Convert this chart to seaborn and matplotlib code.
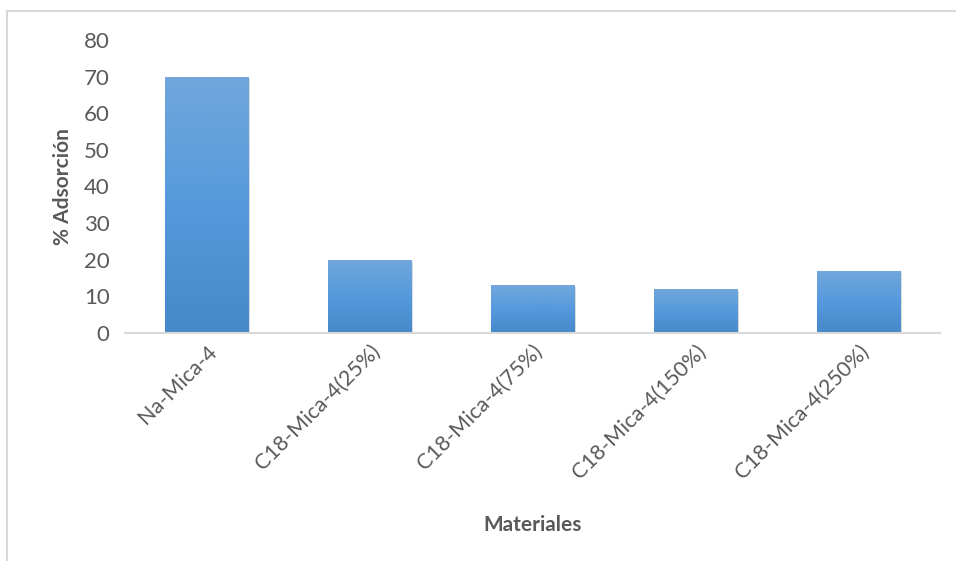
import matplotlib
matplotlib.use("Agg")
import matplotlib.pyplot as plt
import matplotlib.patheffects as pe
from matplotlib.colors import LinearSegmentedColormap
from matplotlib.lines import Line2D
import numpy as np
import pandas as pd
import seaborn as sns

# ── Data ──────────────────────────────────────────────────────────────
materiales = ["Na-Mica-4", "C18-Mica-4(25%)", "C18-Mica-4(75%)",
              "C18-Mica-4(150%)", "C18-Mica-4(250%)"]
adsorcion = [70, 20, 13, 12, 17]

df = pd.DataFrame({"Materiales": materiales, "Adsorcion": adsorcion})

sns.set_theme(style="white")
plt.rcParams["font.family"] = ["Lato", "DejaVu Sans"]

TEXT = "#595959"
GRID = "#D9D9D9"

fig = plt.figure(figsize=(9.56, 5.61), dpi=100)
ax = fig.add_axes([125 / 956, 1 - 333 / 561, 815 / 956, 293 / 561])

sns.barplot(data=df, x="Materiales", y="Adsorcion", color="#5B9BD5",
            width=0.51, ax=ax)

# gradient fill with soft shadow, clipped to each bar
grad = LinearSegmentedColormap.from_list(
    "excel_blue", ["#4589C9", "#559ADC", "#72A7DC"])
gradient = np.linspace(0, 1, 256).reshape(-1, 1)
for bar in ax.patches:
    x0, y0 = bar.get_x(), bar.get_y()
    w, h = bar.get_width(), bar.get_height()
    bar.set_edgecolor("none")
    bar.set_facecolor("#5B9BD5")
    bar.set_path_effects([pe.SimplePatchShadow(offset=(1.5, -1.5), shadow_rgbFace="#888888",
                                               alpha=0.3), pe.Normal()])
    im = ax.imshow(gradient, extent=[x0, x0 + w, y0, y0 + h], origin="lower",
                   cmap=grad, aspect="auto", zorder=3)
    im.set_clip_path(bar)

ax.set_xlim(-0.5, len(materiales) - 0.5)
ax.set_ylim(0, 80)
ax.set_yticks(range(0, 81, 10))

for side in ["top", "right", "left"]:
    ax.spines[side].set_visible(False)
ax.spines["bottom"].set_color(GRID)
ax.spines["bottom"].set_linewidth(1.5)
ax.spines["bottom"].set_zorder(5)
ax.tick_params(axis="both", length=0, colors=TEXT)
ax.tick_params(axis="y", pad=11, labelsize=16)
ax.tick_params(axis="x", pad=6)
plt.setp(ax.get_xticklabels(), rotation=45, ha="right", rotation_mode="anchor",
         color=TEXT, fontsize=15.5)

ax.set_ylabel("% Adsorción", fontsize=15, fontweight="bold", color=TEXT, labelpad=8)
ax.set_xlabel("Materiales", fontsize=15, fontweight="bold", color=TEXT)
ax.xaxis.set_label_coords(0.5, -0.62)

# chart-area border
fig.add_artist(Line2D([7 / 956, 7 / 956], [0, 1 - 11 / 561], color=GRID,
                      linewidth=1.5, transform=fig.transFigure))
fig.add_artist(Line2D([7 / 956, 1], [1 - 11 / 561, 1 - 11 / 561], color=GRID,
                      linewidth=1.5, transform=fig.transFigure))

fig.savefig("out.png", dpi=100)
